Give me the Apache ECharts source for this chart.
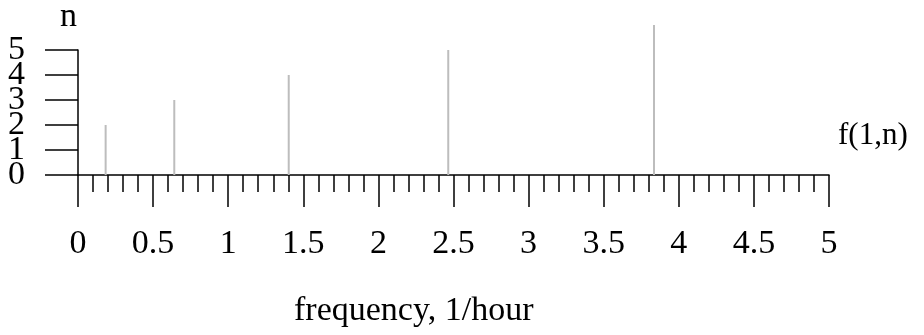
<!DOCTYPE html>
<html><head><meta charset="utf-8">
<script src="https://cdn.jsdelivr.net/npm/echarts@6/dist/echarts.min.js"></script>
<style>html,body{margin:0;padding:0;background:#fff}#c{width:924px;height:335px}</style>
</head><body><div id="c"></div>
<script>
const frequencies = [0.184, 0.641, 1.403, 2.465, 3.835];
const nValues = [2, 3, 4, 5, 6];
const xTicks = [0, 0.5, 1, 1.5, 2, 2.5, 3, 3.5, 4, 4.5, 5];
const yTicks = [0, 1, 2, 3, 4, 5];
const seriesName = 'f(1,n)';
const xTitle = 'frequency, 1/hour';
const yTitle = 'n';

const font = 'Liberation Serif';
const chart = echarts.init(document.getElementById('c'), null, {renderer: 'canvas'});
chart.setOption({
  animation: false,
  grid: {left: 78, right: 95, top: 50, bottom: 160, containLabel: false},
  xAxis: {
    type: 'value', min: 0, max: 5, interval: 0.5,
    axisLine: {show: true, lineStyle: {color: '#000', width: 1.5}},
    axisTick: {show: true, length: 32, inside: false, lineStyle: {color: '#000', width: 1.5}},
    minorTick: {show: true, splitNumber: 5, length: 17, lineStyle: {color: '#000', width: 1.5}},
    splitLine: {show: false},
    axisLabel: {show: true, margin: 52, fontFamily: font, fontSize: 34, color: '#000',
      showMinLabel: true, showMaxLabel: true,
      formatter: v => xTicks.includes(+v.toFixed(2)) ? String(+v.toFixed(2)) : ''}
  },
  yAxis: {
    type: 'value', min: 0, max: 5, interval: 1,
    axisLine: {show: true, lineStyle: {color: '#000', width: 1.5}},
    axisTick: {show: true, length: 33, inside: false, lineStyle: {color: '#000', width: 1.5}},
    splitLine: {show: false},
    axisLabel: {show: false}
  },
  series: [{
    name: seriesName, type: 'bar', barWidth: 2, clip: false,
    itemStyle: {color: '#bdbdbd'},
    data: frequencies.map((f, i) => [f, nValues[i]])
  }]
});
const yLabelGraphics = yTicks.map(v => {
  const p = chart.convertToPixel({gridIndex: 0}, [0, v]);
  return {type: 'text', x: p[0] - 53, y: p[1],
    style: {text: String(v), font: '34px "' + font + '"', fill: '#000', align: 'right', verticalAlign: 'middle'}};
});
chart.setOption({
  graphic: [
    ...yLabelGraphics,
    {type: 'text', left: 60, top: 0, style: {text: yTitle, font: '34px "' + font + '"', fill: '#000'}},
    {type: 'text', left: 838, top: 120, style: {text: seriesName, font: '31px "' + font + '"', fill: '#000'}},
    {type: 'text', left: 294, top: 294, style: {text: xTitle, font: '34px "' + font + '"', fill: '#000'}}
  ]
});
</script></body></html>
